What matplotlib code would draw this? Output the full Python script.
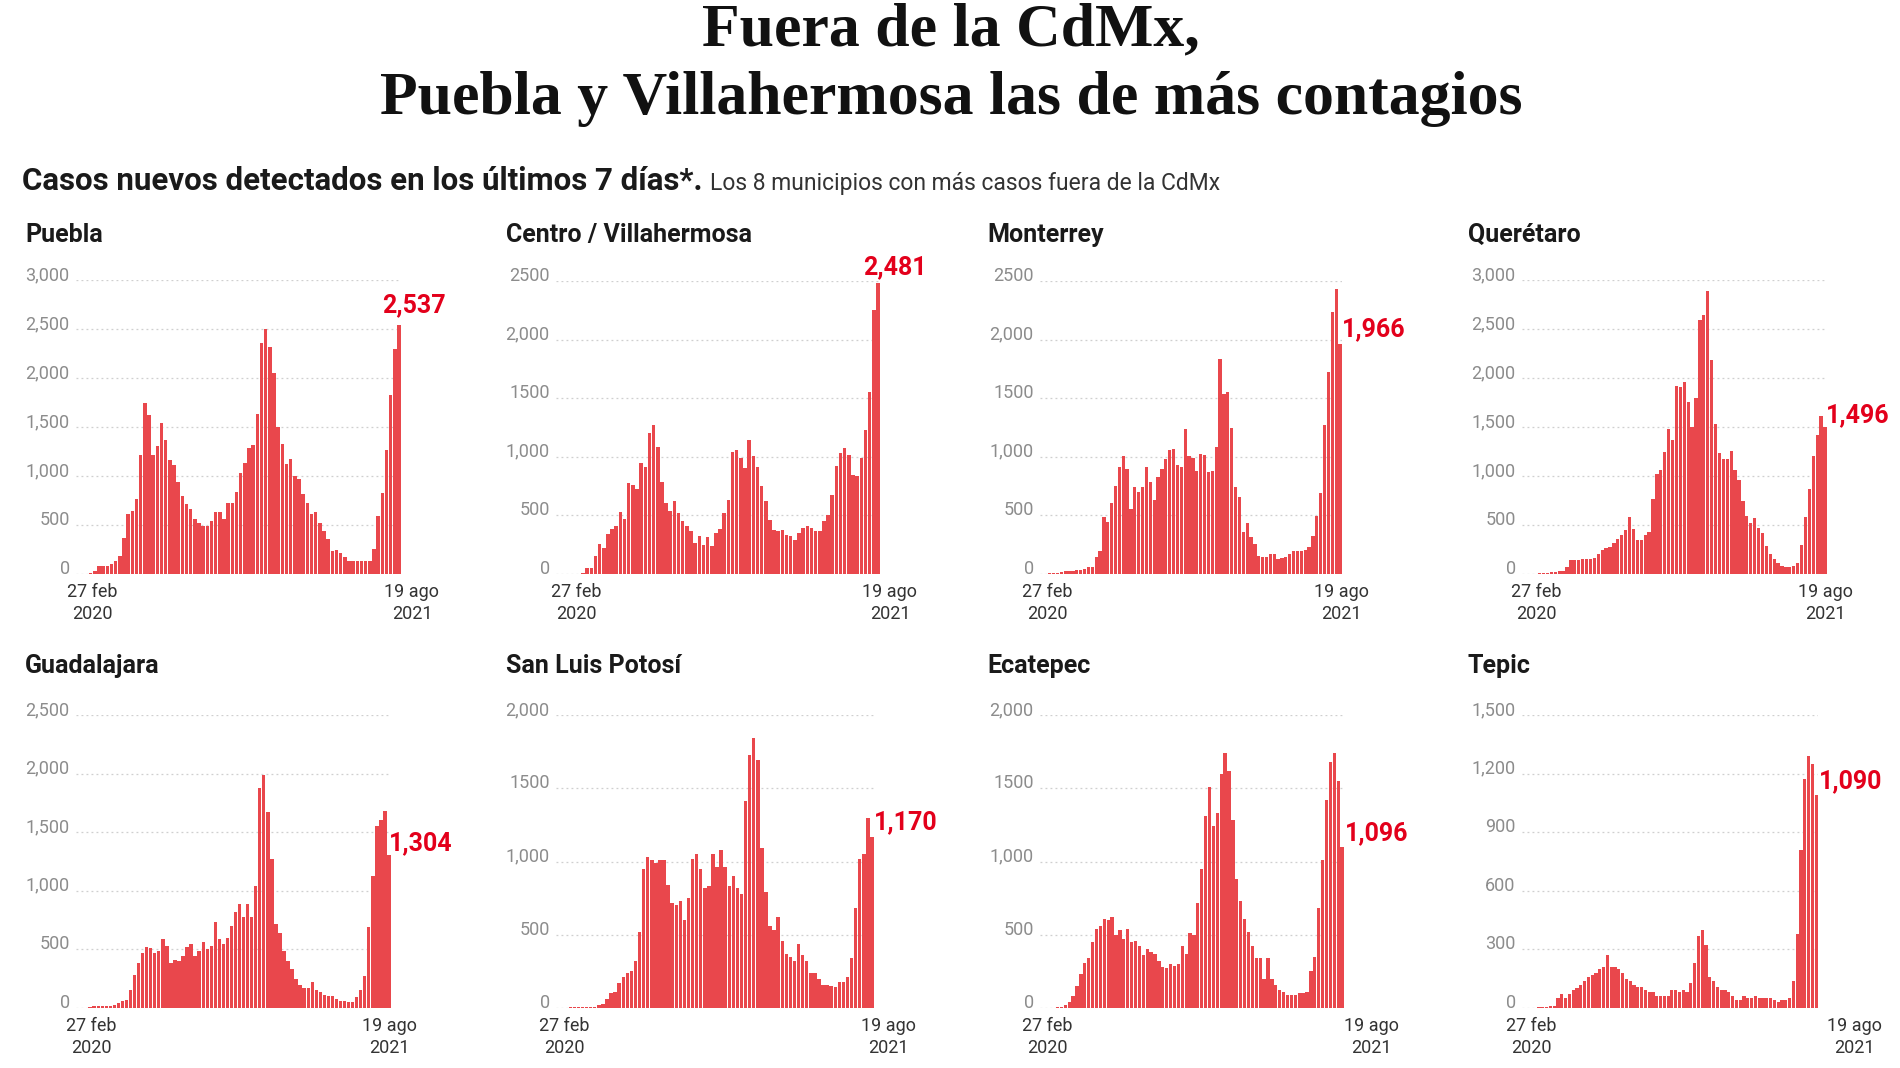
import matplotlib
matplotlib.use("Agg")
import matplotlib.pyplot as plt
import matplotlib.transforms as mtransforms
import numpy as np

W, H = 1900, 1068

# ---- data: new cases in the last 7 days, weekly, 27 feb 2020 -> 19 ago 2021
municipios = ["Puebla", "Centro / Villahermosa", "Monterrey", "Querétaro",
              "Guadalajara", "San Luis Potosí", "Ecatepec", "Tepic"]

puebla = [0, 0, 3, 15, 30, 80, 80, 80, 100, 135, 185, 372, 608, 642, 767, 1217, 1740, 1622, 1217, 1308,
          1545, 1369, 1166, 1109, 936, 794, 710, 666, 558, 524, 490, 490, 541, 632, 632, 564, 727, 727, 835,
          1031, 1132, 1284, 1318, 1629, 2359, 2501, 2319, 2048, 1504, 1322, 1126, 1176, 1000, 973, 821,
          720, 608, 635, 524, 440, 362, 236, 243, 210, 169, 135, 135, 135, 135, 135, 135, 253, 591, 828,
          1267, 1825, 2299, 2537]
centro = [0, 0, 0, 0, 0, 3, 8, 51, 51, 151, 259, 222, 344, 384, 406, 531, 469, 776, 761, 724, 946, 912,
          1202, 1273, 1080, 781, 605, 534, 625, 520, 449, 412, 364, 264, 321, 250, 315, 236, 349, 384, 520,
          634, 1045, 1060, 989, 903, 1145, 1003, 912, 747, 619, 463, 378, 364, 378, 335, 321, 293, 349, 392,
          406, 392, 364, 364, 449, 506, 676, 918, 1031, 1074, 1017, 847, 832, 989, 1230, 1557, 2250, 2481]
monterrey = [0, 0, 5, 8, 11, 15, 23, 25, 28, 30, 34, 43, 63, 63, 148, 194, 490, 442, 604, 755, 912, 1011,
             897, 556, 741, 698, 741, 912, 783, 633, 826, 897, 983, 1054, 1068, 926, 912, 1239, 1011, 991,
             883, 1020, 1017, 869, 883, 1085, 1838, 1538, 1553, 1248, 741, 655, 356, 433, 319, 256, 157,
             142, 142, 171, 171, 128, 137, 142, 171, 199, 194, 199, 205, 234, 328, 499, 689, 1268, 1724,
             2236, 2436, 1966]
queretaro = [0, 2, 3, 5, 8, 12, 15, 20, 25, 30, 35, 70, 140, 143, 143, 155, 155, 155, 160, 200, 245, 270,
             280, 320, 360, 400, 450, 580, 460, 350, 350, 400, 430, 770, 1020, 1060, 1250, 1480, 1370, 1920,
             1910, 1960, 1760, 1500, 1800, 2590, 2640, 2890, 2180, 1530, 1230, 1170, 1170, 1260, 1060, 960,
             740, 590, 520, 570, 470, 420, 290, 200, 150, 110, 80, 70, 70, 80, 110, 300, 580, 870, 1200,
             1420, 1610, 1496]
guadalajara = [0, 0, 0, 10, 15, 15, 15, 15, 20, 25, 40, 60, 70, 150, 280, 380, 470, 520, 510, 470, 490,
               590, 530, 380, 410, 400, 440, 520, 550, 440, 490, 560, 500, 530, 730, 590, 550, 600, 700,
               820, 890, 780, 890, 780, 1040, 1880, 1990, 1670, 1270, 720, 640, 490, 400, 330, 250, 200,
               170, 170, 220, 150, 140, 110, 100, 100, 80, 60, 60, 55, 50, 90, 150, 270, 690, 1130, 1550,
               1600, 1680, 1304]
san_luis = [0, 0, 0, 5, 5, 5, 5, 5, 5, 10, 20, 30, 60, 100, 110, 170, 210, 240, 250, 320, 520, 950, 1030,
            1010, 990, 1010, 1010, 840, 720, 700, 730, 600, 750, 1020, 1050, 950, 820, 830, 1050, 960, 1080,
            960, 830, 900, 820, 780, 1410, 1730, 1840, 1690, 1090, 790, 560, 530, 620, 460, 370, 350, 320,
            440, 360, 320, 240, 240, 200, 160, 160, 150, 140, 180, 180, 210, 340, 680, 1020, 1050, 1300, 1170]
ecatepec = [0, 0, 0, 2, 5, 8, 20, 40, 80, 150, 230, 310, 340, 450, 540, 560, 610, 600, 620, 500, 530, 470,
            540, 450, 460, 420, 360, 400, 380, 370, 320, 280, 270, 300, 290, 300, 420, 370, 510, 500, 720,
            950, 1310, 1510, 1240, 1330, 1600, 1740, 1620, 1280, 880, 730, 610, 520, 420, 340, 340, 200,
            340, 200, 160, 120, 110, 90, 90, 90, 100, 100, 110, 250, 350, 680, 1010, 1420, 1680, 1740,
            1550, 1096]
tepic = [0, 0, 0, 2, 3, 5, 5, 8, 10, 50, 70, 50, 70, 90, 100, 120, 140, 160, 170, 180, 200, 210, 270, 210,
         210, 200, 180, 150, 140, 120, 110, 110, 90, 80, 80, 60, 60, 60, 60, 90, 90, 80, 90, 80, 130, 230,
         370, 400, 320, 160, 140, 110, 90, 90, 80, 60, 40, 40, 60, 50, 50, 60, 50, 50, 50, 50, 40, 30, 40,
         40, 50, 140, 380, 810, 1170, 1290, 1250, 1090]

series = [puebla, centro, monterrey, queretaro, guadalajara, san_luis, ecatepec, tepic]

y_ticks = [[0, 500, 1000, 1500, 2000, 2500, 3000],
           [0, 500, 1000, 1500, 2000, 2500],
           [0, 500, 1000, 1500, 2000, 2500],
           [0, 500, 1000, 1500, 2000, 2500, 3000],
           [0, 500, 1000, 1500, 2000, 2500],
           [0, 500, 1000, 1500, 2000],
           [0, 500, 1000, 1500, 2000],
           [0, 300, 600, 900, 1200, 1500]]
y_labels = [["0", "500", "1,000", "1,500", "2,000", "2,500", "3,000"],
            ["0", "500", "1,000", "1500", "2,000", "2500"],
            ["0", "500", "1,000", "1500", "2,000", "2500"],
            ["0", "500", "1,000", "1,500", "2,000", "2,500", "3,000"],
            ["0", "500", "1,000", "1,500", "2,000", "2,500"],
            ["0", "500", "1,000", "1500", "2,000"],
            ["0", "500", "1,000", "1500", "2,000"],
            ["0", "300", "600", "900", "1,200", "1,500"]]
x_labels = ["27 feb\n2020", "19 ago\n2021"]

# ---- layout (pixels): axes box left, top, right, bottom
boxes = [(76, 280, 401, 574), (556, 281, 880, 574), (1040, 281, 1342, 574), (1522, 280, 1827, 574),
         (76, 715, 391, 1008), (556, 715, 874, 1008), (1040, 715, 1344, 1008), (1522, 715, 1818, 1008)]
title_xy = [(25, 242), (506, 242), (987, 242), (1468, 242),
            (25, 673), (506, 673), (987, 673), (1468, 673)]
date_shift = [(14, 13), (18, 12), (5, 1), (12, 0), (13, 0), (6, 16), (5, 29), (7, 38)]
value_shift = [(-17, 20), (-15, 16), (2, 14), (1, 12), (0, 12), (2, 14), (3, 14), (3, 14)]

BAR = "#E9474C"
RED = "#E3001B"
SANS = ["Roboto", "DejaVu Sans"]


def px_rect(left, top, right, bottom):
    return [left / W, 1 - bottom / H, (right - left) / W, (bottom - top) / H]


fig = plt.figure(figsize=(W / 100, H / 100), dpi=100)
fig.patch.set_facecolor("white")

# ---- headline
fig.text(951 / W, 1 - 45 / H, "Fuera de la CdMx,", ha="center", va="baseline",
         fontsize=44.5, fontweight="bold", family=["Liberation Serif", "DejaVu Serif"], color="#111111")
fig.text(951 / W, 1 - 114 / H, "Puebla y Villahermosa las de más contagios", ha="center", va="baseline",
         fontsize=44.5, fontweight="bold", family=["Liberation Serif", "DejaVu Serif"], color="#111111")

sub = fig.text(22 / W, 1 - 190 / H, "Casos nuevos detectados en los últimos 7 días*.", ha="left",
               va="baseline", fontsize=22.5, fontweight="bold", family=SANS, color="#1a1a1a")
fig.canvas.draw()
bb = sub.get_window_extent()
fig.text((bb.x1 + 8) / W, 1 - 190 / H, "Los 8 municipios con más casos fuera de la CdMx", ha="left",
         va="baseline", fontsize=16.5, family=SANS, color="#333333")

for i, name in enumerate(municipios):
    vals = series[i]
    x = np.arange(len(vals))
    ax = fig.add_axes(px_rect(*boxes[i]))
    ax.bar(x, vals, width=0.84, color=BAR, linewidth=0, zorder=2)
    ax.set_xlim(-0.5, len(vals) - 0.5)
    ax.set_ylim(0, y_ticks[i][-1])

    ax.set_yticks(y_ticks[i])
    ax.set_yticklabels(y_labels[i], family=SANS, fontsize=13, color="#8c8c8c")
    ax.yaxis.grid(True, linestyle=(0, (1.5, 2.5)), color="#cfcfcf", linewidth=0.9, zorder=0)
    ax.set_axisbelow(True)

    ax.set_xticks([0, len(vals) - 1])
    ax.set_xticklabels(x_labels, family=SANS, fontsize=13, color="#333333", linespacing=1.3)
    ax.tick_params(length=0, pad=6.5)
    ax.tick_params(axis="y", pad=4.5)

    # labels sit a little above their gridline; dates are nudged right
    lift = mtransforms.ScaledTranslation(0, 7 / 100, fig.dpi_scale_trans)
    for lbl in ax.get_yticklabels():
        lbl.set_transform(lbl.get_transform() + lift)
    for lbl, dx in zip(ax.get_xticklabels(), date_shift[i]):
        lbl.set_transform(lbl.get_transform() + mtransforms.ScaledTranslation(dx / 100, 0, fig.dpi_scale_trans))

    for s in ax.spines.values():
        s.set_visible(False)

    ax.annotate(f"{vals[-1]:,}", xy=(len(vals) - 1, vals[-1]), xytext=value_shift[i],
                textcoords="offset pixels", ha="left", va="center", color=RED,
                fontsize=18, fontweight="bold", family=SANS)

    fig.text(title_xy[i][0] / W, 1 - title_xy[i][1] / H, name, ha="left", va="baseline",
             fontsize=18, fontweight="bold", family=SANS, color="#1a1a1a")

fig.savefig("out.png", dpi=100, facecolor="white")
